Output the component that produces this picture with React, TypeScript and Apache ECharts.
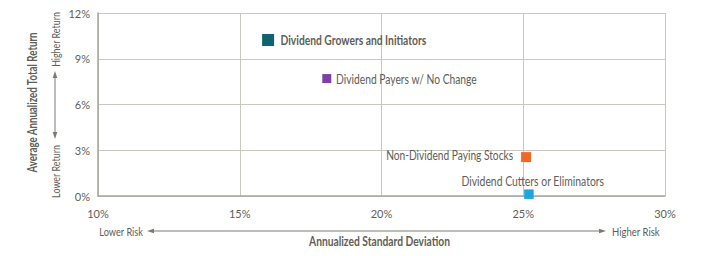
import React, { useEffect, useRef } from "react";
import * as echarts from "echarts";

const names = [
  "Dividend Growers and Initiators",
  "Dividend Payers w/ No Change",
  "Non-Dividend Paying Stocks",
  "Dividend Cutters or Eliminators",
];
const risk = [16.0, 18.07, 25.1, 25.2];
const returns = [10.23, 7.7, 2.55, 0.12];
const colors = ["#0f6470", "#7f3fa8", "#f26722", "#1ba6de"];

// label styling (layout, not data)
const labelAlign = ["left", "left", "right", "center"];
const labelDx = [12.4, 9.3, -13, 3.8];
const labelDy = [0, 1, -2, -13.3];
const labelBold = [true, false, false, false];
const labelWidth = [146, 141, 127, 143];
const markerSize = [12, 9, 10, 9.5];

const xTicks = { min: 10, max: 30, interval: 5 };
const yTicks = { min: 0, max: 12, interval: 3 };

const FONT = "Lato, 'Open Sans', sans-serif";
const TXT = "#5e5e58";

const measureCtx = typeof document !== "undefined" ? document.createElement("canvas").getContext("2d") : null;
function fit(text: string, font: string, width: number) {
  if (!measureCtx) return 1;
  measureCtx.font = font;
  const w = measureCtx.measureText(text).width;
  return w > 0 ? width / w : 1;
}

export default function App() {
  const ref = useRef<HTMLDivElement>(null);
  useEffect(() => {
    const chart = echarts.init(ref.current!, null, { renderer: "svg" });
    const data = names.map((n, i) => [risk[i], returns[i], i]);
    const arrowColor = "#7a7a72";
    const f12 = `12.5px ${FONT}`;
    const b12 = `bold 12.5px ${FONT}`;
    const f11 = `12px ${FONT}`;

    const renderItem = (params: any, api: any) => {
      const i = params.dataIndex;
      const p = api.coord([api.value(0), api.value(1)]);
      const s = markerSize[i];
      const font = labelBold[i] ? b12 : f12;
      return {
        type: "group",
        children: [
          {
            type: "rect",
            shape: { x: p[0] - s / 2, y: p[1] - s / 2, width: s, height: s },
            style: { fill: colors[i] },
          },
          {
            type: "text",
            x: p[0] + labelDx[i],
            y: p[1] + labelDy[i],
            scaleX: fit(names[i], font, labelWidth[i]),
            style: {
              text: names[i],
              font,
              fill: TXT,
              align: labelAlign[i],
              verticalAlign: "middle",
            },
          },
        ],
      };
    };

    chart.setOption({
      animation: false,
      grid: { left: 98, right: 46, top: 13, bottom: 60 },
      xAxis: {
        type: "value",
        min: xTicks.min,
        max: xTicks.max,
        interval: xTicks.interval,
        axisLine: { show: true, lineStyle: { color: "#a6a69e", width: 1.5 } },
        axisTick: { show: false },
        splitLine: { show: true, lineStyle: { color: "#c8c8c1", width: 1 } },
        axisLabel: {
          formatter: "{value}%",
          margin: 12,
          fontFamily: FONT,
          fontSize: 11,
          color: TXT,
        },
      },
      yAxis: {
        type: "value",
        min: yTicks.min,
        max: yTicks.max,
        interval: yTicks.interval,
        axisLine: { show: true, lineStyle: { color: "#a6a69e", width: 1.5 } },
        axisTick: { show: false },
        splitLine: { show: true, lineStyle: { color: "#c8c8c1", width: 1 } },
        axisLabel: {
          formatter: "{value}%",
          margin: 8,
          fontFamily: FONT,
          fontSize: 11,
          color: TXT,
        },
      },
      series: [
        {
          type: "custom",
          renderItem,
          encode: { x: 0, y: 1 },
          data,
        },
      ],
      graphic: [
        // bottom arrow
        { type: "line", shape: { x1: 150, y1: 231, x2: 603, y2: 231 }, style: { stroke: arrowColor, lineWidth: 1 } },
        { type: "polygon", shape: { points: [[147, 231], [154, 228.7], [154, 233.3]] }, style: { fill: arrowColor } },
        { type: "polygon", shape: { points: [[606, 231], [599, 228.7], [599, 233.3]] }, style: { fill: arrowColor } },
        { type: "text", x: 143, y: 231, scaleX: fit("Lower Risk", f11, 44), style: { text: "Lower Risk", align: "right", verticalAlign: "middle", font: f11, fill: TXT } },
        { type: "text", x: 612, y: 231, scaleX: fit("Higher Risk", f11, 48), style: { text: "Higher Risk", align: "left", verticalAlign: "middle", font: f11, fill: TXT } },
        { type: "text", x: 379.5, y: 241, scaleX: fit("Annualized Standard Deviation", b12, 141), style: { text: "Annualized Standard Deviation", align: "center", verticalAlign: "middle", font: b12, fill: TXT } },
        // left arrow
        { type: "line", shape: { x1: 55, y1: 74, x2: 55, y2: 136 }, style: { stroke: arrowColor, lineWidth: 1 } },
        { type: "polygon", shape: { points: [[55, 71], [52.7, 78], [57.3, 78]] }, style: { fill: arrowColor } },
        { type: "polygon", shape: { points: [[55, 139], [52.7, 132], [57.3, 132]] }, style: { fill: arrowColor } },
        { type: "text", x: 55, y: 39.5, rotation: Math.PI / 2, scaleX: fit("Higher Return", f11, 55), style: { text: "Higher Return", align: "center", verticalAlign: "middle", font: f11, fill: TXT } },
        { type: "text", x: 55, y: 171.5, rotation: Math.PI / 2, scaleX: fit("Lower Return", f11, 53), style: { text: "Lower Return", align: "center", verticalAlign: "middle", font: f11, fill: TXT } },
        { type: "text", x: 32, y: 102.5, rotation: Math.PI / 2, scaleX: fit("Average Annualized Total Return", b12, 141), style: { text: "Average Annualized Total Return", align: "center", verticalAlign: "middle", font: b12, fill: TXT } },
      ],
    });
    return () => chart.dispose();
  }, []);
  return <div ref={ref} style={{ width: 711, height: 256, position: "absolute", left: 0, top: 0, background: "#fff" }} />;
}
